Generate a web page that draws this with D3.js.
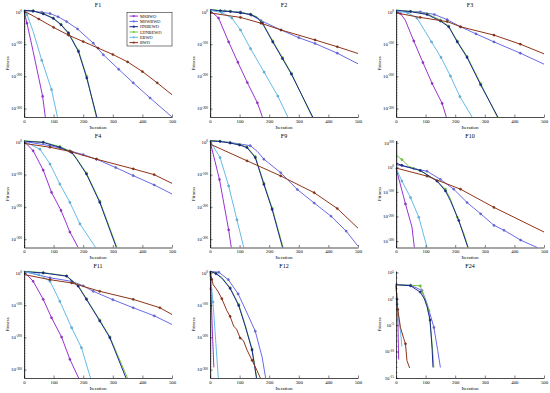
<!DOCTYPE html>
<html>
<head>
<meta charset="utf-8">
<script src="https://cdn.jsdelivr.net/npm/d3@7"></script>
<style>
  body { margin: 0; background: #fff; }
  svg { display: block; font-family: "Liberation Serif", "Times New Roman", serif; }
</style>
</head>
<body>
<svg id="chart" width="550" height="393"></svg>
<script>
// Convergence curves, 9 benchmark functions, log10(fitness) vs iteration

const algorithms = ['MSBWO', 'MSWBWO', 'HNBEWO', 'LHNBEWO', 'EBWO', 'BWO'];
const colors = ['#9a32d4', '#6a6ae8', '#1b2690', '#72cc3c', '#66bbea', '#8e3519'];
const functionNames = ['F1', 'F2', 'F3', 'F4', 'F9', 'F10', 'F11', 'F12', 'F24'];
const xTicks = [0, 100, 200, 300, 400, 500];
const yTicksDeep = [0, -100, -200, -300];
const yTicksF10 = [100, 0, -100, -200, -300];
const yTicksF24 = [5, 0, -5, -10, -15];

// each curve: [iteration, log10(fitness)], in the order of `algorithms`
const F1 = [
  [[0, 4], [10, -35], [31, -123], [63, -262], [72, -326]],
  [[0, 4], [30, 2], [60, -1], [88, -5], [115, -15], [144, -30], [181, -53], [234, -97], [268, -133], [320, -178], [369, -220], [426, -267], [500, -326]],
  [[0, 5], [31, 3], [65, -6], [99, -20], [125, -40], [150, -66], [184, -123], [212, -205], [246, -326]],
  [[0, 5], [31, 3], [65, -5], [99, -19], [125, -38], [150, -64], [184, -120], [212, -200], [244, -326]],
  [[0, 4], [10, -8], [31, -61], [60, -150], [93, -241], [113, -326]],
  [[0, 3], [50, -22], [100, -48], [150, -72], [200, -92], [250, -112], [300, -132], [350, -155], [400, -185], [450, -220], [500, -257]]
];
const F2 = [
  [[0, 5], [29, -19], [63, -93], [94, -156], [126, -219], [160, -282], [177, -326]],
  [[0, 6], [50, 3], [103, 0], [140, -10], [172, -27], [240, -56], [300, -80], [355, -98], [430, -128], [500, -161]],
  [[0, 7], [35, 3], [69, 1], [103, -3], [137, -8], [160, -18], [177, -35], [212, -93], [245, -145], [275, -193], [347, -326]],
  [[0, 8], [35, 4], [69, 2], [103, -2], [137, -7], [160, -16], [177, -33], [212, -90], [245, -142], [275, -190], [345, -326]],
  [[0, 5], [40, -2], [74, -19], [103, -56], [137, -114], [183, -187], [229, -261], [263, -326]],
  [[0, -3], [103, -17], [172, -35], [240, -56], [355, -87], [430, -108], [500, -129]]
];
const F3 = [
  [[0, 3], [15, -5], [31, -25], [60, -90], [91, -157], [122, -222], [156, -284], [170, -326]],
  [[0, 4], [82, 0], [130, -8], [173, -24], [218, -46], [270, -68], [331, -93], [420, -128], [500, -162]],
  [[0, 5], [49, 1], [105, -8], [150, -28], [178, -46], [207, -93], [240, -141], [286, -226], [344, -326]],
  [[0, 6], [49, 2], [105, -6], [150, -25], [178, -44], [207, -90], [240, -138], [286, -222], [342, -326]],
  [[0, 3], [40, -3], [71, -19], [120, -93], [152, -141], [184, -199], [216, -263], [257, -326]],
  [[0, -3], [82, -17], [173, -30], [218, -46], [331, -72], [420, -100], [500, -130]]
];
const F4 = [
  [[0, 4], [31, -26], [65, -86], [93, -155], [125, -211], [155, -278], [183, -326]],
  [[0, 3], [88, -10], [155, -26], [200, -38], [245, -52], [310, -78], [369, -103], [440, -132], [500, -160]],
  [[0, 4], [65, 0], [121, -15], [161, -31], [178, -52], [211, -98], [256, -186], [312, -326]],
  [[0, 5], [65, 1], [121, -13], [161, -29], [178, -50], [211, -95], [256, -182], [314, -326]],
  [[0, 4], [54, -21], [88, -67], [121, -129], [155, -186], [189, -253], [242, -326]],
  [[0, -3], [88, -15], [155, -28], [245, -52], [369, -82], [440, -100], [500, -127]]
];
const F9 = [
  [[0, 4], [32, -115], [63, -271], [72, -326]],
  [[0, 5], [68, 0], [136, -10], [160, -28], [182, -52], [239, -94], [295, -146], [352, -188], [409, -229], [460, -275], [500, -322]],
  [[0, 5], [34, 3], [68, -2], [100, -8], [125, -16], [153, -47], [182, -130], [210, -208], [245, -326]],
  [[0, 6], [34, 4], [68, -1], [100, -7], [125, -14], [153, -44], [182, -126], [210, -204], [247, -326]],
  [[0, 4], [34, -47], [63, -135], [91, -240], [114, -326]],
  [[0, -5], [125, -57], [239, -104], [352, -156], [430, -205], [500, -266]]
];
const F10 = [
  [[0, -3], [32, -149], [54, -243], [62, -326]],
  [[0, 11], [60, -5], [105, -16], [150, -49], [195, -89], [240, -143], [286, -189], [331, -236], [365, -256], [421, -296], [477, -326]],
  [[0, 17], [20, 8], [43, 0], [82, -13], [139, -56], [167, -96], [184, -136], [212, -216], [243, -326]],
  [[0, 51], [20, 31], [43, 4], [82, -13], [139, -56], [167, -89], [184, -129], [207, -203], [229, -269], [244, -326]],
  [[0, -3], [20, -56], [49, -123], [77, -203], [105, -326]],
  [[0, -3], [105, -36], [218, -89], [331, -163], [500, -263]]
];
const F11 = [
  [[0, 4], [31, -26], [65, -82], [93, -139], [127, -199], [155, -268], [185, -327]],
  [[0, 4], [88, -15], [161, -26], [200, -40], [234, -57], [300, -83], [369, -108], [440, -133], [500, -160]],
  [[0, 4], [65, 0], [144, -10], [183, -41], [211, -82], [256, -149], [290, -201], [345, -327]],
  [[0, 5], [65, 1], [144, -9], [183, -39], [211, -80], [256, -146], [290, -198], [350, -327]],
  [[0, 4], [50, -5], [88, -26], [121, -88], [161, -170], [194, -232], [225, -327]],
  [[0, -5], [88, -21], [161, -31], [256, -57], [369, -82], [459, -108], [500, -129]]
];
const F12 = [
  [[0, 4], [3, -50], [8, -180], [13, -293]],
  [[0, 5], [30, 2], [62, -21], [95, -65], [119, -112], [153, -181], [176, -261], [188, -326]],
  [[0, 5], [20, -2], [40, -16], [68, -48], [97, -101], [119, -165], [142, -239], [157, -326]],
  [[0, 5], [20, -1], [40, -14], [68, -46], [97, -98], [119, -162], [142, -236], [158, -326]],
  [[0, 4], [10, -90], [20, -220], [28, -326]],
  [[0, 5], [6, -20], [11, -37], [20, -48], [28, -59], [40, -80], [57, -117], [68, -135], [80, -165], [90, -175], [102, -202], [113, -210], [125, -239], [142, -271], [159, -303], [170, -326]]
];
const F24 = [
  [[0, 2.5], [3, 0], [6, -3], [9, -11.5]],
  [[0, 2.7], [50, 2.6], [88, 1.6], [105, -0.9], [128, -5.4], [141, -9.8], [150, -13]],
  [[0, 2.7], [49, 2.5], [82, 1.3], [96, 0], [105, -1.5], [115, -4], [122, -9.5], [125, -13]],
  [[0, 2.7], [82, 2.5], [94, 0.5], [111, -2.2], [122, -8.5], [128, -13]],
  [[0, 2.7], [4, -1], [10, -4], [15, -6], [20, -9]],
  [[0, 2.9], [6, -2], [15, -5.4], [26, -7.5], [32, -8.5], [37, -11.7], [46, -13.1]]
];

const panels = [
  { data: F1, ticks: yTicksDeep, domain: [-326, 6], minor: 5 },
  { data: F2, ticks: yTicksDeep, domain: [-326, 6], minor: 5 },
  { data: F3, ticks: yTicksDeep, domain: [-326, 6], minor: 5 },
  { data: F4, ticks: yTicksDeep, domain: [-326, 6], minor: 5 },
  { data: F9, ticks: yTicksDeep, domain: [-326, 6], minor: 5 },
  { data: F10, ticks: yTicksF10, domain: [-326, 109], minor: 5 },
  { data: F11, ticks: yTicksDeep, domain: [-326, 6], minor: 5 },
  { data: F12, ticks: yTicksDeep, domain: [-326, 6], minor: 5 },
  { data: F24, ticks: yTicksF24, domain: [-15, 5.3], minor: 1 }
];

const cols = [24, 210, 396];
const rows = [10, 140.5, 271];
const pw = 148, ph = 107;
const drawOrder = [0, 1, 3, 2, 4, 5];

const svg = d3.select('#chart');

panels.forEach((p, i) => {
  const left = cols[i % 3];
  const top = rows[Math.floor(i / 3)];
  const x = d3.scaleLinear().domain([0, 500]).range([0, pw]);
  const y = d3.scaleLinear().domain(p.domain).range([ph, 0]);
  const g = svg.append('g').attr('transform', `translate(${left},${top})`);

  const clipId = 'clip' + i;
  g.append('clipPath').attr('id', clipId)
    .append('rect').attr('x', -1).attr('y', -1).attr('width', pw + 2).attr('height', ph + 1);

  const line = d3.line().x(d => x(d[0])).y(d => y(d[1]));
  const plot = g.append('g').attr('clip-path', `url(#${clipId})`);

  drawOrder.forEach(k => {
    const pts = p.data[k];
    plot.append('path')
      .attr('d', line(pts))
      .attr('fill', 'none')
      .attr('stroke', colors[k])
      .attr('stroke-width', 1)
      .attr('stroke-linejoin', 'round');

    // markers on the curve's own vertices, spaced out
    let lastIt = -100;
    const marks = pts.filter((d, j) => {
      if (j === 0 || j === pts.length - 1) return false;
      if (d[0] - lastIt < 25) return false;
      lastIt = d[0];
      return true;
    });
    plot.selectAll(null)
      .data(marks)
      .enter()
      .append('circle')
      .attr('cx', d => x(d[0]))
      .attr('cy', d => y(d[1]))
      .attr('r', 1.1)
      .attr('fill', colors[k])
      .attr('stroke', d3.color(colors[k]).darker(1))
      .attr('stroke-width', 0.4);
  });

  // axes
  g.append('g')
    .attr('transform', `translate(0,${ph})`)
    .call(d3.axisBottom(x).tickValues(xTicks).tickSizeInner(-2.5).tickSizeOuter(0).tickPadding(2.5))
    .call(a => a.select('.domain').attr('stroke', '#000').attr('stroke-width', 0.7))
    .call(a => a.selectAll('.tick line').attr('stroke-width', 0.5))
    .call(a => a.selectAll('text').attr('font-size', '4.8px').attr('font-family', 'Liberation Serif'));

  g.append('g')
    .call(d3.axisLeft(y).tickValues(p.ticks).tickSizeInner(-2.5).tickSizeOuter(0).tickFormat(''))
    .call(a => a.select('.domain').attr('stroke', '#000').attr('stroke-width', 0.7))
    .call(a => a.selectAll('.tick line').attr('stroke-width', 0.5));

  // minor ticks on the log axis
  const lo = Math.ceil(p.domain[0] / p.minor) * p.minor;
  g.append('g')
    .selectAll('line')
    .data(d3.range(lo, p.domain[1] + 0.001, p.minor))
    .enter()
    .append('line')
    .attr('x1', 0).attr('x2', 1.5)
    .attr('y1', d => y(d)).attr('y2', d => y(d))
    .attr('stroke', '#000')
    .attr('stroke-width', 0.45);

  // y tick labels 10^n
  const lab = g.append('g').selectAll('text')
    .data(p.ticks)
    .enter()
    .append('text')
    .attr('x', -2)
    .attr('y', d => y(d) + 1.8)
    .attr('text-anchor', 'end')
    .attr('font-size', '4.8px');
  lab.append('tspan').text('10');
  lab.append('tspan').attr('dy', -1.8).attr('font-size', '3.4px').text(d => d);

  g.append('text')
    .attr('x', pw / 2).attr('y', -3)
    .attr('text-anchor', 'middle')
    .attr('font-size', '6px')
    .text(functionNames[i]);

  g.append('text')
    .attr('x', pw / 2).attr('y', ph + 11.5)
    .attr('text-anchor', 'middle')
    .attr('font-size', '5px')
    .text('Iteration');

  g.append('text')
    .attr('transform', `translate(-15,${ph / 2}) rotate(-90)`)
    .attr('text-anchor', 'middle')
    .attr('font-size', '5px')
    .text('Fitness');
});

// legend in the F1 panel
const legend = svg.append('g').attr('transform', 'translate(127,12.5)');
legend.append('rect')
  .attr('width', 45).attr('height', 33.5)
  .attr('fill', '#fff').attr('stroke', '#000').attr('stroke-width', 0.5);
const items = legend.selectAll('g.item')
  .data(algorithms)
  .enter()
  .append('g')
  .attr('class', 'item')
  .attr('transform', (d, i) => `translate(0,${3.6 + i * 5.3})`);
items.append('line')
  .attr('x1', 2.5).attr('x2', 11)
  .attr('stroke', (d, i) => colors[i])
  .attr('stroke-width', 1);
items.append('circle')
  .attr('cx', 6.75).attr('r', 1.1)
  .attr('fill', (d, i) => colors[i]);
items.append('text')
  .attr('x', 13).attr('y', 1.5)
  .attr('font-size', '4.3px')
  .text(d => d);
</script>
</body>
</html>
